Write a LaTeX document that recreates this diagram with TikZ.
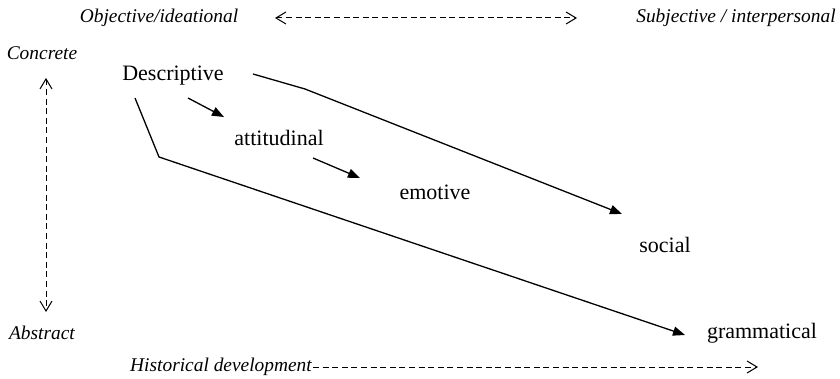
\documentclass[tikz,border=0pt]{standalone}
\usepackage{fontspec}
\setmainfont{Liberation Serif}
\usetikzlibrary{arrows.meta,positioning,calc}

\begin{document}
\begin{tikzpicture}[x=0.5pt,y=-0.5pt,
    term/.style={font=\fontsize{11}{13}\selectfont, inner sep=0pt},
    axislabel/.style={font=\fontsize{9.7}{12}\selectfont\itshape, inner sep=0pt},
    axisline/.style={line width=0.5pt, dash pattern=on 3pt off 1.8pt,
        {Straight Barb[length=5pt,width=6pt]}-{Straight Barb[length=5pt,width=6pt]}},
    devline/.style={line width=0.65pt, -{Triangle[length=6pt,width=4.6pt]}},
]
    \useasboundingbox (0,0) rectangle (840,379);
    % axes
    \node[axislabel] (obj)  at (159,18)  {Objective/ideational};
    \node[axislabel] (subj) at (736,18)  {Subjective / interpersonal};
    \node[axislabel] (conc) at (42,53)   {Concrete};
    \node[axislabel] (abst) at (42,333)  {Abstract};
    \node[axislabel] (hist) at (221,367) {Historical development};
    \coordinate (histend) at (758,367);
    % terms
    \node[term] (desc) at (173,76)  {Descriptive};
    \node[term] (att)  at (279,138) {attitudinal};
    \node[term] (emo)  at (435,192) {emotive};
    \node[term] (soc)  at (665,245) {social};
    \node[term] (gram) at (762,333) {grammatical};

    \draw[axisline] ([shift={(116,0)}]obj.center) -- ([shift={(-159,0)}]subj.center);
    \draw[axisline] ([shift={(4,25)}]conc.center) -- ([shift={(4,-21)}]abst.center);
    \draw[axisline, -{Straight Barb[length=5pt,width=6pt]}] ([shift={(92,0)}]hist.center) -- (histend);

    \draw[devline] ([shift={(15,22)}]desc.center) -- ([shift={(-55,-21)}]att.center);
    \draw[devline] ([shift={(34,20)}]att.center) -- ([shift={(-75,-14)}]emo.center);
    \draw[devline] ([shift={(80,-2)}]desc.center) -- (305,89) -- ([shift={(-43,-31)}]soc.center);
    \draw[devline] ([shift={(-38,22)}]desc.center) -- (159,157) -- ([shift={(-77,2)}]gram.center);
\end{tikzpicture}
\end{document}
